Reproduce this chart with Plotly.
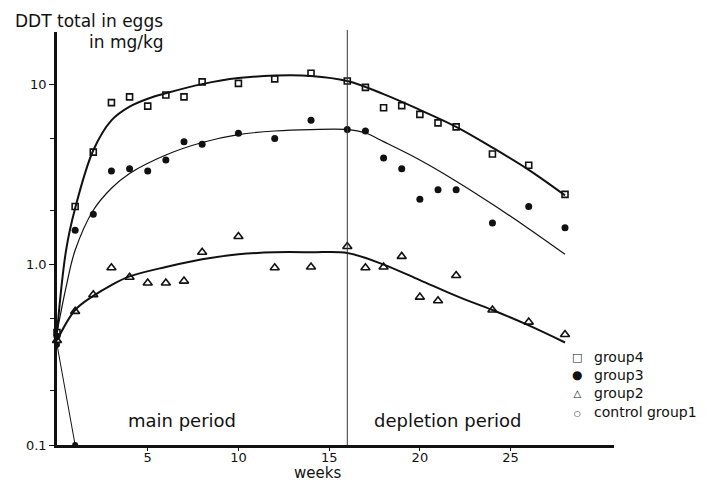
import plotly.graph_objects as go

# ---- measured points ----
g4_weeks = [0, 1, 2, 3, 4, 5, 6, 7, 8, 10, 12, 14, 16, 17, 18, 19, 20, 21, 22, 24, 26, 28]
g4_vals = [0.42, 2.1, 4.2, 7.9, 8.5, 7.55, 8.7, 8.5, 10.3, 10.1, 10.7, 11.5, 10.4, 9.6, 7.4, 7.6, 6.8, 6.1, 5.8, 4.1, 3.55, 2.45]

g3_weeks = [0, 1, 2, 3, 4, 5, 6, 7, 8, 10, 12, 14, 16, 17, 18, 19, 20, 21, 22, 24, 26, 28]
g3_vals = [0.40, 1.55, 1.9, 3.3, 3.4, 3.3, 3.8, 4.8, 4.65, 5.35, 5.0, 6.3, 5.6, 5.5, 3.9, 3.4, 2.3, 2.6, 2.6, 1.7, 2.1, 1.6]

g2_weeks = [0, 1, 2, 3, 4, 5, 6, 7, 8, 10, 12, 14, 16, 17, 18, 19, 20, 21, 22, 24, 26, 28]
g2_vals = [0.38, 0.55, 0.68, 0.96, 0.85, 0.79, 0.79, 0.81, 1.17, 1.43, 0.96, 0.97, 1.26, 0.96, 0.97, 1.11, 0.66, 0.63, 0.87, 0.56, 0.48, 0.41]

g1_weeks = [0, 1]
g1_vals = [0.36, 0.1]

# ---- fitted curves ----
c4_weeks = [0, 0.5, 1, 2, 3, 4, 5, 6, 8, 10, 12, 14, 16, 18, 20, 22, 24, 26, 28]
c4_vals = [0.42, 1.2, 2.05, 4.3, 6.3, 7.5, 8.3, 8.9, 10.0, 10.8, 11.15, 11.1, 10.4, 8.8, 7.2, 5.8, 4.45, 3.35, 2.42]

c3_weeks = [0, 0.5, 1, 2, 3, 4, 6, 8, 10, 12, 14, 16, 17, 18, 20, 22, 24, 26, 28]
c3_vals = [0.42, 0.75, 1.2, 2.0, 2.65, 3.2, 4.05, 4.75, 5.25, 5.5, 5.6, 5.6, 5.36, 4.8, 3.8, 2.9, 2.16, 1.58, 1.14]

c2_weeks = [0, 1, 2, 3, 4, 6, 8, 10, 12, 14, 16, 18, 20, 22, 24, 26, 28]
c2_vals = [0.38, 0.56, 0.67, 0.77, 0.86, 0.97, 1.07, 1.14, 1.17, 1.17, 1.16, 1.0, 0.82, 0.67, 0.56, 0.46, 0.37]

x_ticks = [5, 10, 15, 20, 25]
y_ticks = [0.1, 1, 10]
y_ticktext = ["0.1", "1.0", "10"]
y_minor = [0.2, 0.5, 2, 5]

legend_symbols = ["<span style='font-size:11px'>\u25a1</span>",
                  "<span style='font-size:12px'>\u25cf</span>",
                  "<span style='font-size:10px'>\u25b3</span>",
                  "<span style='font-size:8px'>\u25cb</span>"]
legend_labels = ["group4", "group3", "group2", "control group1"]

FONT = "DejaVu Sans"
BLACK = "#111111"

fig = go.Figure()

# curves
fig.add_trace(go.Scatter(x=c4_weeks, y=c4_vals, mode="lines", line=dict(color=BLACK, width=2, shape="spline", smoothing=1.0), showlegend=False, hoverinfo="skip"))
fig.add_trace(go.Scatter(x=c3_weeks, y=c3_vals, mode="lines", line=dict(color=BLACK, width=1.2, shape="spline", smoothing=1.0), showlegend=False, hoverinfo="skip"))
fig.add_trace(go.Scatter(x=c2_weeks, y=c2_vals, mode="lines", line=dict(color=BLACK, width=2, shape="spline", smoothing=1.0), showlegend=False, hoverinfo="skip"))
fig.add_trace(go.Scatter(x=g1_weeks, y=g1_vals, mode="lines+markers", line=dict(color=BLACK, width=1),
                         marker=dict(symbol="circle", size=6, color=BLACK), showlegend=False, cliponaxis=False))

# points
fig.add_trace(go.Scatter(x=g4_weeks, y=g4_vals, mode="markers", name="group4",
                         marker=dict(symbol="square-open", size=6, color=BLACK, line=dict(width=1.6)), showlegend=False, cliponaxis=False))
fig.add_trace(go.Scatter(x=g3_weeks, y=g3_vals, mode="markers", name="group3",
                         marker=dict(symbol="circle", size=7, color=BLACK), showlegend=False, cliponaxis=False))
fig.add_trace(go.Scatter(x=g2_weeks, y=g2_vals, mode="markers", name="group2",
                         marker=dict(symbol="triangle-up-open", size=8, color=BLACK, line=dict(width=1.6)), showlegend=False, cliponaxis=False))

# separation between periods
fig.add_shape(type="line", xref="x", yref="paper", x0=16, x1=16, y0=0, y1=1.005,
              line=dict(color="#333333", width=1))

def py(pix):
    # pixel row -> paper y (plot area spans rows 32..445)
    return (445 - pix) / 413

annotations = [
    dict(text="DDT total in eggs", x=-0.079, y=py(20.5), xanchor="left", yanchor="middle", font=dict(size=17)),
    dict(text="in mg/kg", x=0.054, y=py(41.5), xanchor="left", yanchor="middle", font=dict(size=17)),
    dict(text="main period", x=0.2244, y=py(420), xanchor="center", yanchor="middle", font=dict(size=18)),
    dict(text="depletion period", x=0.702, y=py(420), xanchor="center", yanchor="middle", font=dict(size=18)),
    dict(text="weeks", x=0.4668, y=py(473), xanchor="center", yanchor="middle", font=dict(size=15)),
    dict(text="<br>".join(legend_symbols), x=0.9336, y=py(384.5), xanchor="center", yanchor="middle",
         align="center", font=dict(size=14)),
    dict(text="<br>".join(legend_labels), x=0.9605, y=py(384.5), xanchor="left", yanchor="middle",
         align="left", font=dict(size=14)),
]
for a in annotations:
    a.update(xref="paper", yref="paper", showarrow=False)
    a["font"].update(family=FONT, color=BLACK)

fig.update_layout(
    width=726, height=482,
    margin=dict(l=57, r=112, t=32, b=37),
    paper_bgcolor="white", plot_bgcolor="white",
    font=dict(family=FONT, color=BLACK, size=13),
    annotations=annotations,
    showlegend=False,
)
fig.update_xaxes(range=[0, 30.7], showgrid=False, zeroline=False,
                 showline=True, linecolor=BLACK, linewidth=2.5,
                 tickmode="array", tickvals=x_ticks, ticks="outside", ticklen=3, tickwidth=1,
                 ticklabelstandoff=-4,
                 tickcolor=BLACK, tickfont=dict(size=13, family=FONT))
fig.update_yaxes(type="log", range=[-1, 1.289], showgrid=False, zeroline=False,
                 showline=True, linecolor=BLACK, linewidth=2.5,
                 tickmode="array", tickvals=y_ticks, ticktext=y_ticktext,
                 ticks="outside", ticklen=5, tickwidth=1, tickcolor=BLACK,
                 tickfont=dict(size=13, family=FONT),
                 minor=dict(tickvals=y_minor, ticks="outside", ticklen=4, tickwidth=1, tickcolor=BLACK))

fig.write_html("out.html")
